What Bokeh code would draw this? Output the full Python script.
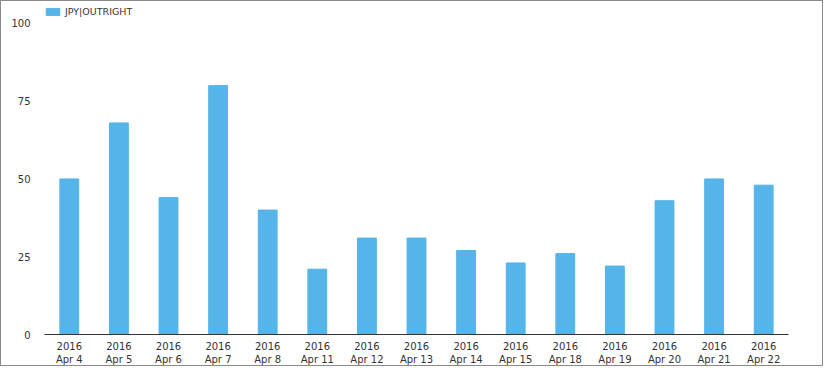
from bokeh.plotting import figure
from bokeh.models import ColumnDataSource, Range1d, FixedTicker, Legend, LegendItem
from bokeh.embed import file_html
from bokeh.resources import INLINE

years = ["2016"] * 15
days = ["Apr 4", "Apr 5", "Apr 6", "Apr 7", "Apr 8", "Apr 11", "Apr 12", "Apr 13",
        "Apr 14", "Apr 15", "Apr 18", "Apr 19", "Apr 20", "Apr 21", "Apr 22"]
values = [50, 68, 44, 80, 40, 21, 31, 31, 27, 23, 26, 22, 43, 50, 48]
y_ticks = [0, 25, 50, 75, 100]
series_name = "JPY|OUTRIGHT"

factors = [f"{y}\n{d}" for y, d in zip(years, days)]
src = ColumnDataSource(dict(x=factors, top=values))

# frame extends a bit above 100 to hold the legend (100 sits 20px below frame top)
H, TOP, BOT = 366, 2, 31
GAP = 20
frame_h = H - TOP - BOT
px_per_unit = (frame_h - GAP) / 100.0
y_end = 100 + GAP / px_per_unit

p = figure(x_range=factors, y_range=Range1d(0, y_end), width=823, height=H,
           output_backend="svg", toolbar_location=None,
           min_border_left=43, min_border_right=36, min_border_top=TOP, min_border_bottom=BOT)
p.x_range.range_padding = 0
r = p.vbar(x="x", top="top", width=0.38, source=src, color="#55b4e8")

p.xgrid.grid_line_color = None
p.ygrid.grid_line_color = None
p.outline_line_color = None
p.styles = {"border": "1px solid #8a8a8a", "box-sizing": "border-box"}

p.yaxis.ticker = FixedTicker(ticks=y_ticks)
p.yaxis.axis_line_color = None
p.yaxis.major_tick_line_color = None
p.yaxis.minor_tick_line_color = None
p.yaxis.major_label_text_font = "DejaVu Sans"
p.yaxis.major_label_text_font_size = "10px"
p.yaxis.major_label_text_color = "#333333"
p.yaxis.major_label_standoff = 8

p.xaxis.axis_line_color = "#333333"
p.xaxis.axis_line_width = 1
p.xaxis.major_tick_line_color = None
p.xaxis.minor_tick_line_color = None
p.xaxis.major_label_text_font = "DejaVu Sans"
p.xaxis.major_label_text_font_size = "10px"
p.xaxis.major_label_text_color = "#333333"
p.xaxis.major_label_standoff = 0

legend = Legend(items=[LegendItem(label=series_name, renderers=[r])],
                location=(0, frame_h - 16), orientation="horizontal",
                label_text_font="DejaVu Sans", label_text_font_size="9.5px",
                label_text_color="#333333", glyph_width=17, glyph_height=9,
                label_standoff=4, padding=0, margin=0, spacing=0,
                background_fill_alpha=0, border_line_color=None, label_height=11)
p.add_layout(legend, "center")

open("out.html", "w").write(file_html(p, INLINE))
